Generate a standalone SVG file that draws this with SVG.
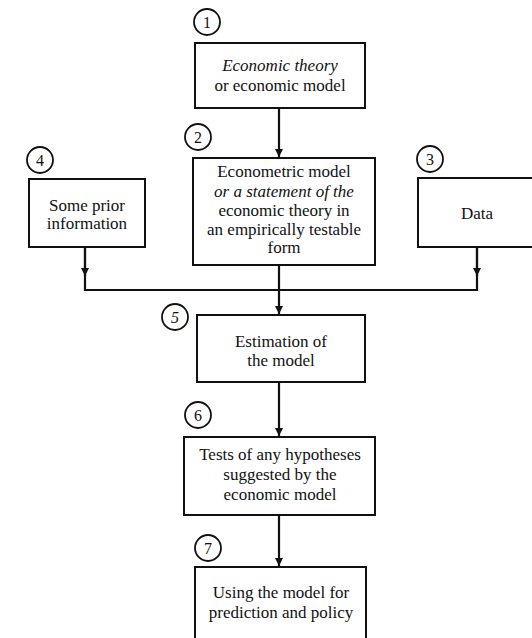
<svg xmlns="http://www.w3.org/2000/svg" width="532" height="638" viewBox="0 0 532 638">
<style>
.box{fill:#fff;stroke:#111;stroke-width:2}
.num{fill:none;stroke:#111;stroke-width:1.8}
text{font-family:"Liberation Serif","Times New Roman",Times,serif;fill:#111;text-anchor:middle}
.t{font-size:17px}
.n{font-size:16px}
.i{font-style:italic}
.c{fill:none;stroke:#111;stroke-width:2.2}
</style>
<defs>
<marker id="ah" viewBox="0 0 8 14" refX="8" refY="7" markerWidth="8" markerHeight="14" markerUnits="userSpaceOnUse" orient="auto">
<path d="M0,3 L8,7 L0,11 Z" fill="#111"/>
</marker>
</defs>
<g id="connectors">
<path class="c" d="M279,108 V157" marker-end="url(#ah)"/>
<path class="c" d="M279,265 V314" marker-end="url(#ah)"/>
<path class="c" d="M85,247 V290 H477 V247"/>
<path class="c" d="M85,247 V276" marker-end="url(#ah)"/>
<path class="c" d="M477,247 V276" marker-end="url(#ah)"/>
<path class="c" d="M279,382 V436" marker-end="url(#ah)"/>
<path class="c" d="M279,515 V566" marker-end="url(#ah)"/>
</g>
<g id="node1">
<circle class="num" cx="207" cy="22" r="13"/>
<text class="n" x="207" y="28">1</text>
<rect class="box" x="195" y="43" width="170" height="65"/>
<text class="t i" x="280" y="71">Economic theory</text>
<text class="t" x="280" y="91">or economic model</text>
</g>
<g id="node2">
<circle class="num" cx="198" cy="137" r="13"/>
<text class="n" x="198" y="143">2</text>
<rect class="box" x="193" y="158" width="182" height="107"/>
<text class="t" x="284" y="177">Econometric model</text>
<text class="t i" x="284" y="197">or a statement of the</text>
<text class="t" x="284" y="216">economic theory in</text>
<text class="t" x="284" y="235">an empirically testable</text>
<text class="t" x="284" y="253">form</text>
</g>
<g id="node3">
<circle class="num" cx="430" cy="159" r="13"/>
<text class="n" x="430" y="165">3</text>
<rect class="box" x="418" y="178" width="120" height="69"/>
<text class="t" x="477" y="219">Data</text>
</g>
<g id="node4">
<circle class="num" cx="40" cy="160" r="13"/>
<text class="n" x="40" y="166">4</text>
<rect class="box" x="29" y="179" width="116" height="68"/>
<text class="t" x="87" y="211">Some prior</text>
<text class="t" x="87" y="229">information</text>
</g>
<g id="node5">
<circle class="num" cx="175" cy="317" r="13"/>
<text class="n i" x="175" y="323">5</text>
<rect class="box" x="197" y="315" width="168" height="67"/>
<text class="t" x="281" y="347">Estimation of</text>
<text class="t" x="281" y="366">the model</text>
</g>
<g id="node6">
<circle class="num" cx="198" cy="415" r="13"/>
<text class="n" x="198" y="421">6</text>
<rect class="box" x="184" y="437" width="191" height="78"/>
<text class="t" x="280" y="460">Tests of any hypotheses</text>
<text class="t" x="280" y="480">suggested by the</text>
<text class="t" x="280" y="500">economic model</text>
</g>
<g id="node7">
<circle class="num" cx="208" cy="548" r="13"/>
<text class="n" x="208" y="554">7</text>
<rect class="box" x="195" y="567" width="171" height="75"/>
<text class="t" x="281" y="598">Using the model for</text>
<text class="t" x="281" y="618">prediction and policy</text>
</g>
</svg>
